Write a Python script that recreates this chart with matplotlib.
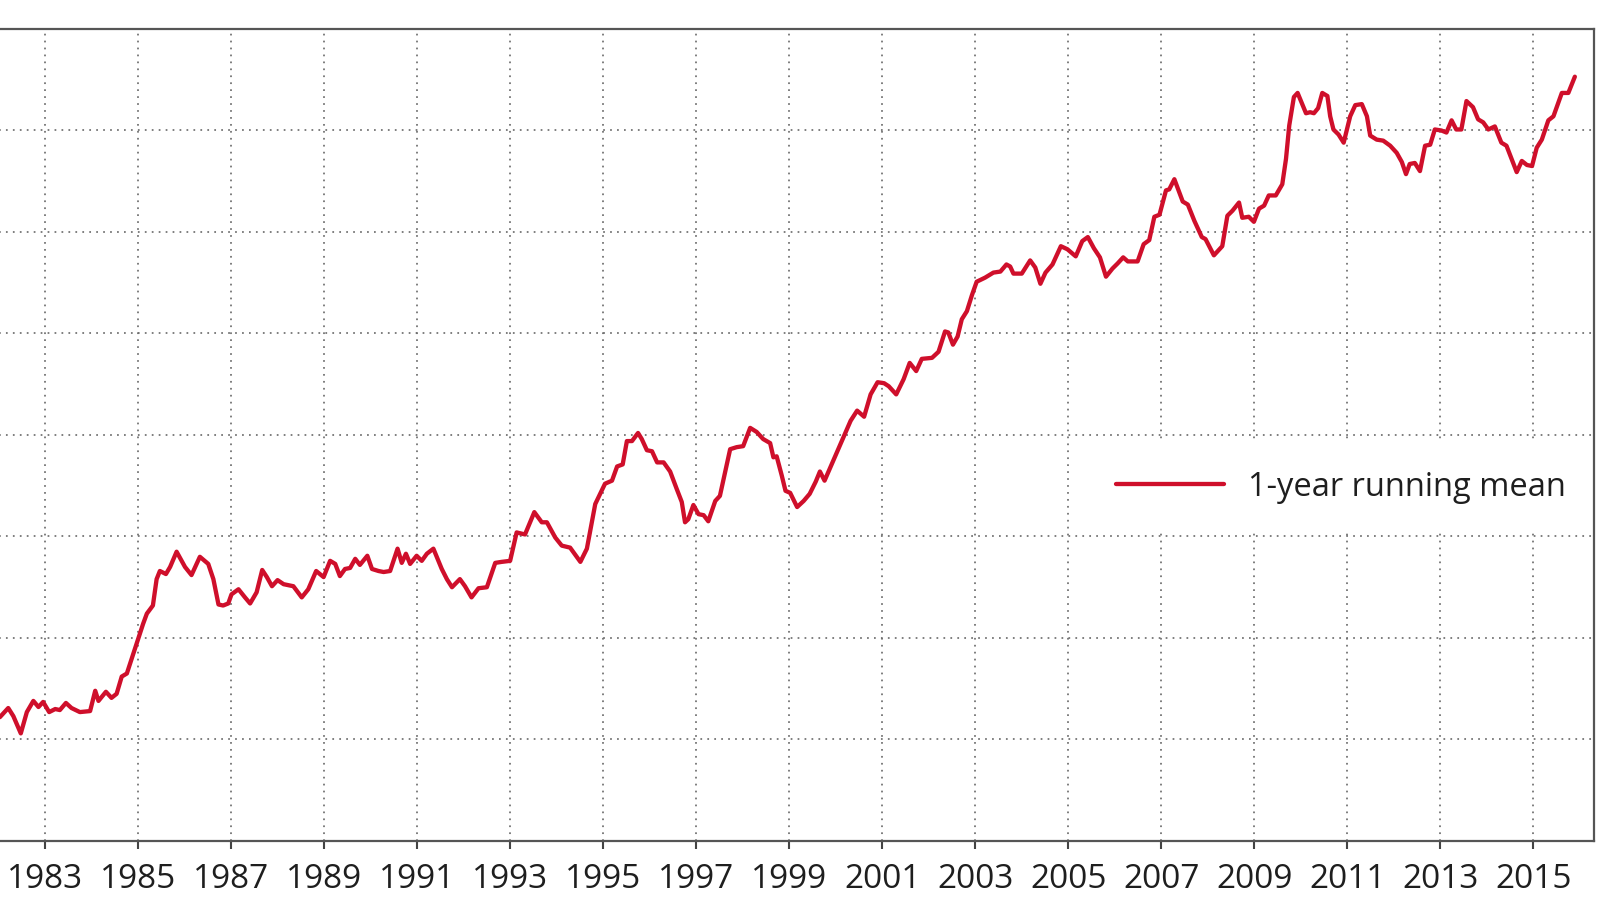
import matplotlib.pyplot as plt

# values (time in decimal years, y in gridline units)
years = [1982.03, 1982.21, 1982.32, 1982.48, 1982.61, 1982.75, 1982.86, 1982.96,
         1983.09, 1983.22, 1983.32, 1983.45, 1983.57, 1983.75, 1983.97,
         1984.08, 1984.15, 1984.31, 1984.43, 1984.54, 1984.65, 1984.76, 1984.86,
         1985.01, 1985.11, 1985.19, 1985.32, 1985.40, 1985.47, 1985.60, 1985.69, 1985.83,
         1986.01, 1986.15, 1986.33, 1986.51, 1986.62, 1986.73, 1986.83, 1986.94,
         1987.01, 1987.16, 1987.30, 1987.41, 1987.55, 1987.67, 1987.77, 1987.88,
         1988.00, 1988.13, 1988.34, 1988.52, 1988.66, 1988.83, 1988.99,
         1989.13, 1989.24, 1989.34, 1989.45, 1989.56, 1989.67, 1989.77, 1989.93,
         1990.03, 1990.17, 1990.28, 1990.42, 1990.58, 1990.67, 1990.76, 1990.85, 1990.99,
         1991.10, 1991.21, 1991.35, 1991.53, 1991.64, 1991.75, 1991.92,
         1992.03, 1992.17, 1992.32, 1992.50, 1992.68, 1992.82, 1993.00,
         1993.14, 1993.32, 1993.52, 1993.68, 1993.79, 1993.97,
         1994.11, 1994.29, 1994.51, 1994.65, 1994.83, 1995.04,
         1995.19, 1995.30, 1995.42, 1995.51, 1995.62, 1995.75, 1995.83, 1995.94,
         1996.05, 1996.16, 1996.30, 1996.44, 1996.58, 1996.69, 1996.76, 1996.83, 1996.94,
         1997.05, 1997.16, 1997.26, 1997.41, 1997.51, 1997.73, 1997.87,
         1998.01, 1998.16, 1998.30, 1998.44, 1998.59, 1998.66, 1998.73, 1998.84, 1998.92,
         1999.02, 1999.17, 1999.31, 1999.44, 1999.57, 1999.66, 1999.76, 1999.96,
         2000.18, 2000.32, 2000.46, 2000.61, 2000.75, 2000.90,
         2001.04, 2001.14, 2001.30, 2001.46, 2001.59, 2001.73, 2001.85,
         2002.07, 2002.21, 2002.35, 2002.42, 2002.52, 2002.62, 2002.71, 2002.82, 2002.93,
         2003.03, 2003.21, 2003.39, 2003.54, 2003.67, 2003.75, 2003.82,
         2004.00, 2004.18, 2004.29, 2004.40, 2004.51, 2004.66, 2004.84, 2004.98,
         2005.16, 2005.30, 2005.42, 2005.55, 2005.68, 2005.81, 2005.95,
         2006.06, 2006.18, 2006.28, 2006.49, 2006.62, 2006.74, 2006.85, 2006.96,
         2007.10, 2007.17, 2007.28, 2007.46, 2007.57, 2007.71, 2007.87, 2007.95,
         2008.13, 2008.31, 2008.42, 2008.53, 2008.67, 2008.74, 2008.88, 2008.99,
         2009.10, 2009.21, 2009.31, 2009.46, 2009.60, 2009.68, 2009.75, 2009.85, 2009.93,
         2010.01, 2010.11, 2010.20, 2010.28, 2010.37, 2010.46, 2010.57, 2010.63, 2010.70,
         2010.81, 2010.92, 2010.99,
         2011.06, 2011.17, 2011.31, 2011.42, 2011.49, 2011.63, 2011.77, 2011.92,
         2012.06, 2012.17, 2012.26, 2012.34, 2012.45, 2012.56, 2012.67, 2012.78, 2012.88,
         2013.02, 2013.13, 2013.24, 2013.34, 2013.45, 2013.56, 2013.70, 2013.81, 2013.92,
         2014.03, 2014.17, 2014.31, 2014.42, 2014.53, 2014.64, 2014.75, 2014.86, 2014.97,
         2015.07, 2015.18, 2015.32, 2015.43, 2015.61, 2015.75, 2015.89]

running_mean = [1.22, 1.31, 1.23, 1.06, 1.27, 1.38, 1.32, 1.37,
                1.27, 1.30, 1.29, 1.36, 1.31, 1.27, 1.28,
                1.48, 1.38, 1.47, 1.41, 1.45, 1.62, 1.65, 1.79,
                2.00, 2.14, 2.24, 2.32, 2.58, 2.66, 2.63, 2.70, 2.85,
                2.70, 2.62, 2.80, 2.73, 2.58, 2.33, 2.32, 2.34,
                2.43, 2.48, 2.40, 2.34, 2.45, 2.67, 2.60, 2.51,
                2.57, 2.53, 2.51, 2.40, 2.48, 2.66, 2.60,
                2.76, 2.73, 2.61, 2.68, 2.69, 2.78, 2.72, 2.81,
                2.68, 2.66, 2.65, 2.66, 2.88, 2.74, 2.83, 2.73, 2.81,
                2.76, 2.83, 2.88, 2.68, 2.58, 2.50, 2.58,
                2.51, 2.40, 2.49, 2.50, 2.74, 2.75, 2.76,
                3.04, 3.02, 3.24, 3.14, 3.14, 2.99,
                2.91, 2.89, 2.75, 2.88, 3.32, 3.52,
                3.55, 3.69, 3.71, 3.94, 3.94, 4.02, 3.96, 3.85,
                3.84, 3.73, 3.73, 3.64, 3.47, 3.34, 3.14, 3.17, 3.31,
                3.22, 3.21, 3.15, 3.35, 3.40, 3.86, 3.88,
                3.89, 4.07, 4.03, 3.96, 3.92, 3.78, 3.79, 3.60, 3.45,
                3.43, 3.29, 3.35, 3.42, 3.54, 3.64, 3.55, 3.76,
                3.99, 4.14, 4.24, 4.18, 4.40, 4.52,
                4.51, 4.48, 4.40, 4.55, 4.71, 4.63, 4.75,
                4.76, 4.82, 5.02, 5.01, 4.89, 4.97, 5.14, 5.22, 5.38,
                5.51, 5.55, 5.60, 5.61, 5.68, 5.66, 5.59,
                5.59, 5.72, 5.65, 5.49, 5.60, 5.68, 5.86, 5.83,
                5.76, 5.91, 5.95, 5.84, 5.75, 5.56, 5.64,
                5.69, 5.75, 5.71, 5.71, 5.88, 5.92, 6.15, 6.17,
                6.41, 6.42, 6.52, 6.30, 6.27, 6.11, 5.95, 5.93,
                5.77, 5.86, 6.16, 6.21, 6.29, 6.14, 6.15, 6.10,
                6.23, 6.26, 6.36, 6.36, 6.47, 6.72, 7.05, 7.33, 7.37,
                7.28, 7.17, 7.18, 7.17, 7.22, 7.37, 7.34, 7.14, 7.01,
                6.96, 6.88, 7.01,
                7.14, 7.25, 7.26, 7.14, 6.95, 6.91, 6.90, 6.85,
                6.78, 6.69, 6.57, 6.67, 6.68, 6.60, 6.85, 6.86, 7.01,
                7.00, 6.98, 7.10, 7.01, 7.01, 7.29, 7.23, 7.11, 7.08,
                7.01, 7.04, 6.88, 6.85, 6.72, 6.59, 6.70, 6.66, 6.65,
                6.83, 6.91, 7.10, 7.14, 7.37, 7.37, 7.53]

tick_years = list(range(1983, 2016, 2))
y_levels = list(range(0, 9))

plt.rcParams['font.family'] = ['Open Sans', 'DejaVu Sans']

fig = plt.figure(figsize=(16, 9.2), dpi=100)
# the axes runs off the left edge of the picture, as in the reference crop
ax = fig.add_axes([-0.0591, 0.0848, 1.0553, 0.8826])

ax.plot(years, running_mean, color='#cf0f2b', lw=3.1, label='1-year running mean',
        solid_joinstyle='round', solid_capstyle='round', zorder=3)

ax.set_xlim(1980, 2016.3)
ax.set_ylim(0, 8)
ax.set_xticks(tick_years)
ax.set_yticks(y_levels)
ax.set_yticklabels([])

ax.grid(True, color='#6e6e6e', lw=1.25, linestyle=(0, (1, 3.0)))
ax.set_axisbelow(True)

for s in ax.spines.values():
    s.set_color('#555555')
    s.set_linewidth(1.6)
    s.set_zorder(6)
ax.spines['left'].set_visible(False)

ax.tick_params(axis='x', direction='out', length=6, width=1.5, color='#444444',
               labelsize=24, labelcolor='#1e1e1e', pad=9)
ax.tick_params(axis='y', length=0)

leg = ax.legend(loc='center right', bbox_to_anchor=(1.0, 0.436), borderaxespad=0,
                fontsize=23.5, frameon=True, facecolor='white', edgecolor='none',
                framealpha=1, fancybox=False, handlelength=3.3, handletextpad=0.75,
                borderpad=0.85)
for t in leg.get_texts():
    t.set_color('#1e1e1e')

fig.savefig('out.png', dpi=100)
